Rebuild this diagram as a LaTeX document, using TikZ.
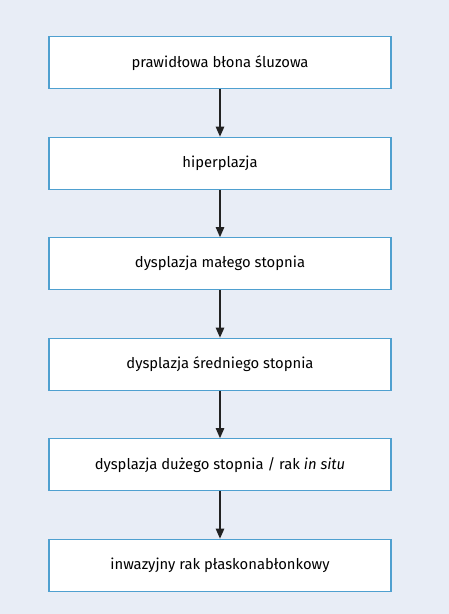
\documentclass[tikz,border=0pt]{standalone}
\usepackage{fontspec}
\setmainfont{Fira Sans}
\usetikzlibrary{positioning,arrows.meta}
\definecolor{tlo}{HTML}{E8EDF6}
\definecolor{ramka}{HTML}{4FA0D0}
\definecolor{strzalka}{HTML}{222222}
\tikzset{
  etap/.style={draw=ramka,line width=1.3pt,fill=white,minimum width=342pt,
    minimum height=52pt,inner sep=0pt,font=\fontsize{14.8}{17}\selectfont},
  strz/.style={-{Triangle[width=8.5pt,length=10pt]},draw=strzalka,line width=1.1pt}
}
\begin{document}
\begin{tikzpicture}[x=1pt,y=1pt,node distance=47.2pt]
\fill[tlo] (0,0) rectangle (449,614);
\useasboundingbox (0,0) rectangle (449,614);

\node[etap] (e1) at (220,551.2) {prawidłowa błona śluzowa};
\node[etap,below=of e1] (e2) {hiperplazja};
\node[etap,below=of e2] (e3) {dysplazja małego stopnia};
\node[etap,below=of e3] (e4) {dysplazja średniego stopnia};
\node[etap,below=of e4] (e5) {dysplazja dużego stopnia / rak \textit{in situ}};
\node[etap,below=of e5] (e6) {inwazyjny rak płaskonabłonkowy};
% kolejne etapy od zdrowej błony do raka
\foreach \a/\b in {e1/e2,e2/e3,e3/e4,e4/e5,e5/e6}
    \draw[strz] (\a) -- (\b);
\end{tikzpicture}
\end{document}
